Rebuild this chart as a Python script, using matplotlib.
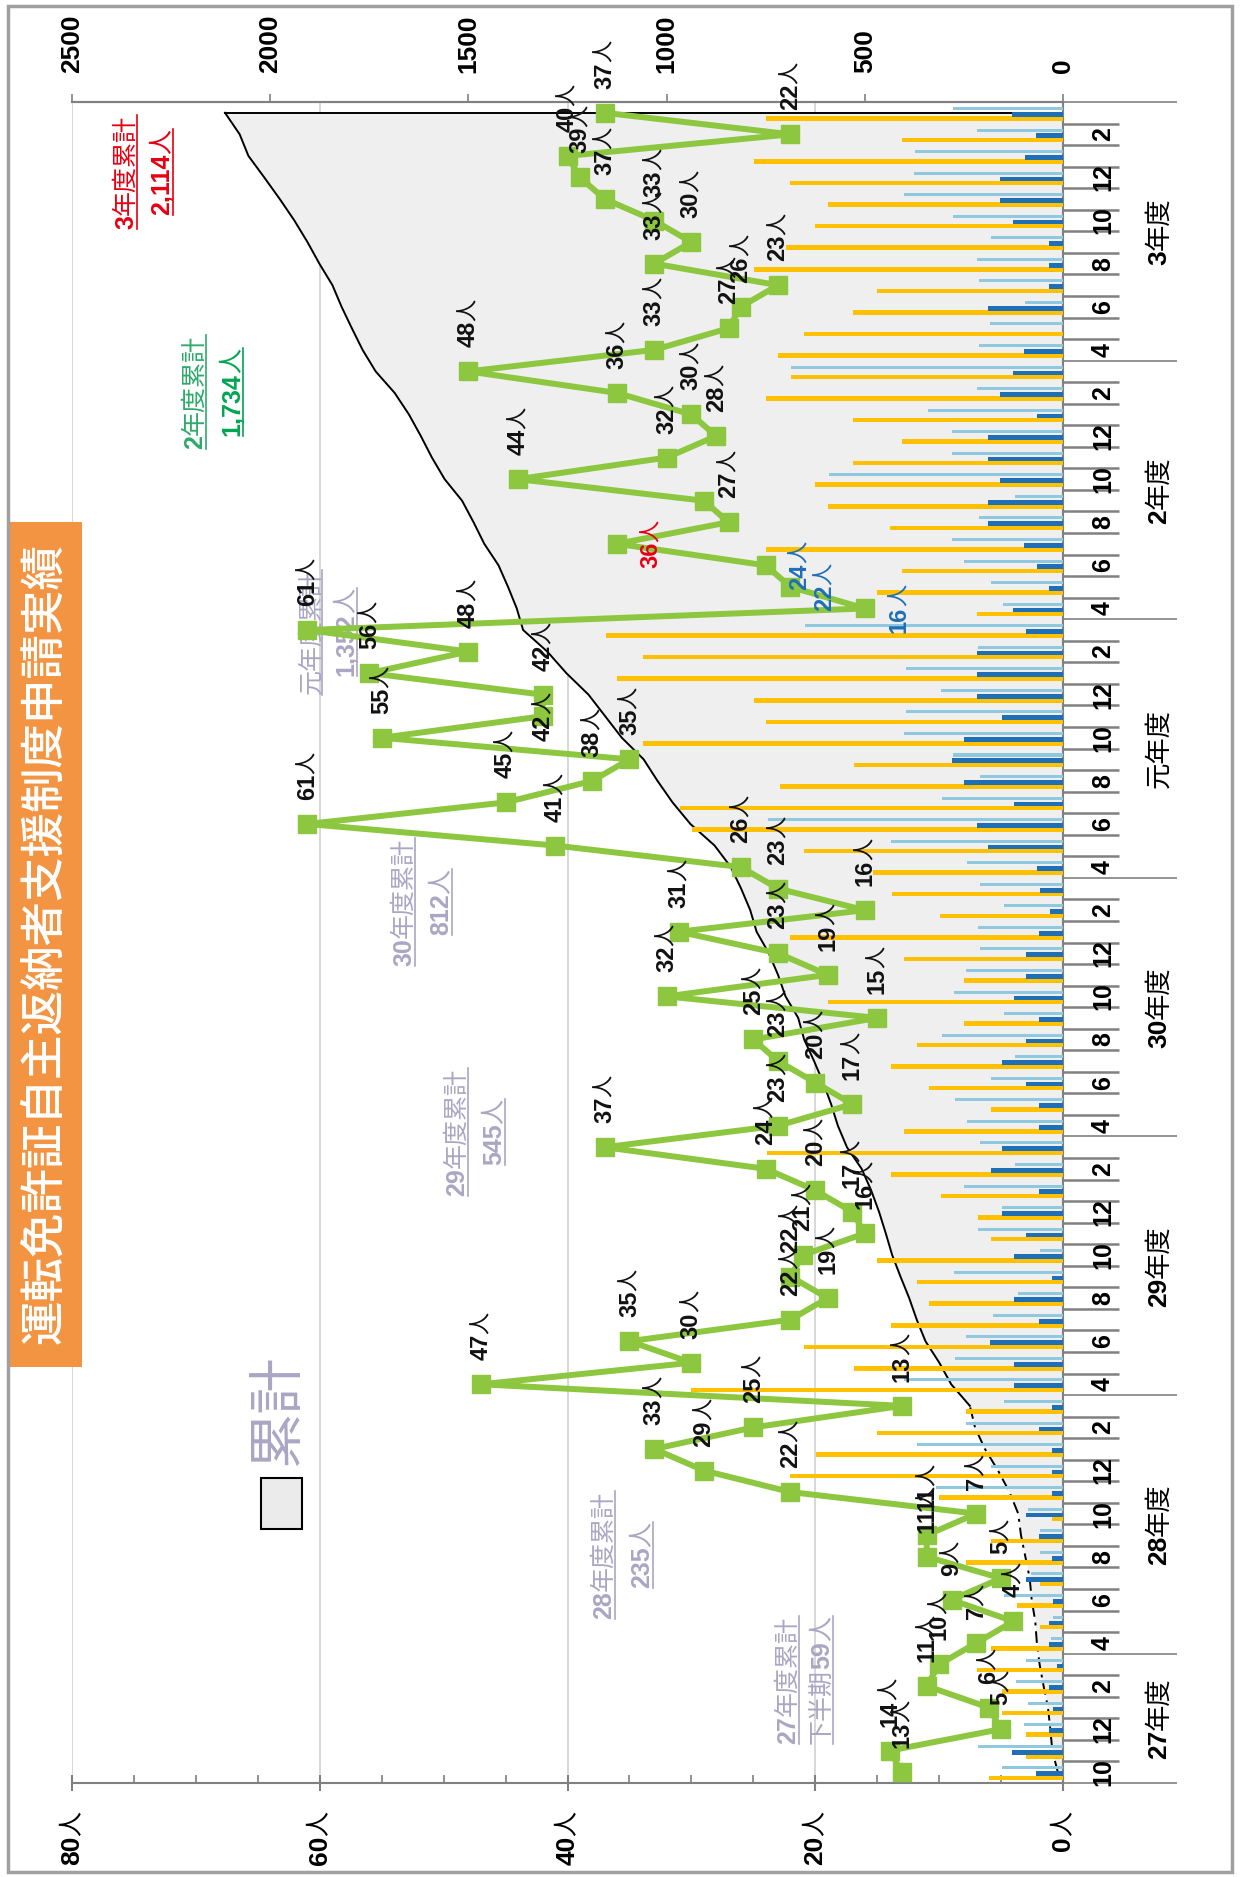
import re
import matplotlib
matplotlib.use("Agg")
import matplotlib.pyplot as plt
import numpy as np
from matplotlib.patches import Rectangle
from matplotlib.lines import Line2D
from matplotlib.transforms import IdentityTransform

W, H = 1241, 1877
CJK = ["Noto Sans CJK JP", "DejaVu Sans"]
SANS = ["Liberation Sans", "DejaVu Sans"]
NARROW = ["Liberation Sans Narrow", "Liberation Sans", "DejaVu Sans"]

# monthly applicants (人), fiscal years, Apr..Mar (27年度: Oct..Mar only)
apps_h27 = [13, 14, 5, 6, 11, 10]
apps_h28 = [7, 4, 9, 5, 11, 11, 7, 22, 29, 33, 25, 13]
apps_h29 = [47, 30, 35, 22, 19, 22, 21, 16, 17, 20, 24, 37]
apps_h30 = [23, 17, 20, 23, 25, 15, 32, 19, 23, 31, 16, 23]
apps_r1 = [26, 41, 61, 45, 38, 35, 55, 42, 42, 56, 48, 61]
apps_r2 = [16, 22, 24, 36, 27, 29, 44, 32, 28, 30, 36, 48]
apps_r3 = [33, 27, 26, 23, 33, 30, 33, 37, 39, 40, 22, 37]

# three monthly bar series, read against the 0-2500 scale
yellow_h27 = [186, 93, 93, 155, 155, 217]
yellow_h28 = [181, 57, 115, 57, 244, 182, 29, 313, 688, 624, 468, 244]
yellow_h29 = [938, 528, 653, 433, 337, 369, 468, 182, 214, 308, 433, 747]
yellow_h30 = [400, 182, 337, 433, 369, 249, 592, 249, 400, 688, 310, 432]
yellow_r1 = [480, 653, 935, 967, 715, 528, 1060, 749, 780, 1124, 1060, 1154]
yellow_r2 = [216, 469, 405, 749, 436, 592, 625, 530, 405, 530, 749, 687]
yellow_r3 = [719, 654, 530, 469, 780, 700, 625, 592, 688, 780, 405, 749]

dark_h27 = [67, 129, 36, 26, 36, 15]
dark_h28 = [36, 36, 26, 93, 29, 61, 93, 29, 29, 29, 61, 29]
dark_h29 = [124, 124, 185, 61, 124, 29, 124, 93, 153, 61, 182, 153]
dark_h30 = [61, 61, 93, 153, 93, 61, 124, 93, 93, 61, 34, 57]
dark_r1 = [65, 188, 217, 124, 249, 281, 249, 153, 217, 217, 217, 93]
dark_r2 = [127, 36, 65, 98, 188, 188, 160, 188, 188, 65, 160, 127]
dark_r3 = [98, 0, 188, 36, 36, 36, 127, 160, 160, 96, 67, 129]

light_h27 = [155, 214, 98, 88, 119, 93]
light_h28 = [30, 26, 150, 80, 57, 57, 89, 321, 182, 369, 244, 150]
light_h29 = [400, 273, 244, 177, 113, 276, 57, 214, 153, 249, 121, 209]
light_h30 = [241, 273, 182, 121, 305, 150, 276, 244, 209, 214, 150, 209]
light_r1 = [241, 433, 744, 305, 209, 278, 400, 397, 308, 397, 214, 651]
light_r2 = [151, 182, 250, 281, 213, 120, 590, 281, 281, 340, 216, 687]
light_r3 = [213, 185, 95, 213, 216, 182, 278, 402, 376, 374, 216, 278]

fy_names = ["27", "28", "29", "30", "元", "2", "3"]
fy_totals = [59, 235, 545, 812, 1352, 1734, 2114]
first_month = 10

applicants = np.array(apps_h27 + apps_h28 + apps_h29 + apps_h30 + apps_r1 + apps_r2 + apps_r3)
yellow = np.array(yellow_h27 + yellow_h28 + yellow_h29 + yellow_h30 + yellow_r1 + yellow_r2 + yellow_r3)
dark = np.array(dark_h27 + dark_h28 + dark_h29 + dark_h30 + dark_r1 + dark_r2 + dark_r3)
light = np.array(light_h27 + light_h28 + light_h29 + light_h30 + light_r1 + light_r2 + light_r3)
cumulative = np.cumsum(applicants)

n = len(applicants)
ycent = np.arange(n) + 0.5
fy_len = [len(apps_h27)] + [12] * 6
fy_edges = np.concatenate([[0], np.cumsum(fy_len)])

SCALE = 2500 / 80  # top scale units per person

fig = plt.figure(figsize=(W / 100, H / 100), dpi=100)
fig.patch.set_facecolor("white")
ax = fig.add_axes([72 / W, 1 - 1783 / H, (1063 - 72) / W, (1783 - 102) / H])
ax.set_xlim(80, 0)
ax.set_ylim(0, n)
ax.set_facecolor("white")

GRAY = "#808080"
ax.spines["left"].set_visible(False)
for side in ["right", "top", "bottom"]:
    ax.spines[side].set_color(GRAY)
    ax.spines[side].set_linewidth(1.5)

ax.grid(axis="x", color="#d4d4d4", lw=1.3, zorder=0)
ax.set_axisbelow(True)

# cumulative area
ax.fill_betweenx(ycent, 0, cumulative / SCALE, color="#efefef", lw=0, zorder=1)
split = fy_edges[2]
ax.plot(cumulative[:split] / SCALE, ycent[:split], color="black", lw=1.4, ls=(0, (6, 3, 1.5, 3)), zorder=2)
ax.plot(cumulative[split - 1:] / SCALE, ycent[split - 1:], color="black", lw=1.4, zorder=2)
ax.plot([cumulative[-1] / SCALE, 0], [ycent[-1], ycent[-1]], color="black", lw=1.4, zorder=2)

# monthly bars
ax.barh(np.arange(n) + 0.24, yellow / SCALE, height=0.21, color="#ffc000", zorder=3)
ax.barh(np.arange(n) + 0.43, dark / SCALE, height=0.22, color="#1f6fb6", zorder=3)
ax.barh(np.arange(n) + 0.70, light / SCALE, height=0.14, color="#8fc8df", zorder=3)

# applicants line
ax.plot(applicants, ycent, "-s", color="#8dc63f", lw=4.3, ms=13.5, zorder=5)

# time axis (right side)
ax.yaxis.tick_right()
ax.set_yticks(fy_edges)
ax.set_yticks(np.arange(n + 1), minor=True)
ax.tick_params(axis="y", which="major", length=82, width=1.2, color=GRAY, labelright=False)
ax.tick_params(axis="y", which="minor", length=40, width=1.8, color=GRAY)

# bottom axis (people)
ax.set_xticks(np.arange(0, 81, 20))
ax.set_xticks(np.arange(0, 81, 5), minor=True)
ax.tick_params(axis="x", which="major", direction="inout", length=12, width=1.5, color=GRAY, labelbottom=False)
ax.tick_params(axis="x", which="minor", direction="in", length=6, width=1.2, color=GRAY)

# top axis (cumulative)
sec = ax.secondary_xaxis("top", functions=(lambda v: v * SCALE, lambda v: v / SCALE))
sec.spines["top"].set_color(GRAY)
sec.spines["top"].set_linewidth(1.5)
sec.set_xticks(np.arange(0, 2501, 500), [str(v) for v in range(0, 2501, 500)],
               fontweight="bold", fontfamily=SANS, fontsize=19, rotation=90)
sec.tick_params(axis="x", direction="out", length=6, width=1.2, color=GRAY, pad=15)

renderer = fig.canvas.get_renderer()


def draw_runs(x, y, s, size, color="black", align="bottom", digit_font=SANS,
              kanji_size=None, zorder=6, underline=False):
    """Rotated text reading upwards; digit runs bold, other runs CJK regular."""
    arts = []
    for r in re.findall(r"[\d,]+|[^\d,]+", s):
        if r[0].isdigit():
            kw = dict(family=digit_font, weight="bold", size=size)
        else:
            kw = dict(family=CJK, weight="normal", size=kanji_size or size)
        arts.append(ax.text(0, 0, r, rotation=90, rotation_mode="anchor", ha="left", va="center",
                            color=color, transform=IdentityTransform(), clip_on=False,
                            zorder=zorder, **kw))
    lens = [t.get_window_extent(renderer).height for t in arts]
    total = sum(lens)
    start = {"bottom": y, "top": y - total, "center": y - total / 2}[align]
    y0 = start
    for t, ln in zip(arts, lens):
        t.set_position((x, start))
        start += ln
    if underline:
        ux = x + size * 0.62
        ax.add_artist(Line2D([ux, ux], [y0, start], color=color, lw=1.2,
                             transform=IdentityTransform(), clip_on=False, zorder=zorder))


def disp(xv, yv):
    return ax.transData.transform((xv, yv))


# bottom tick labels
for v in range(0, 81, 20):
    x, _ = disp(v, 0)
    draw_runs(x, H - 1811, f"{v}人", 19, align="top", kanji_size=18)

# month labels
for i in range(0, n, 2):
    _, y = disp(0, i + 0.5)
    month = (first_month + i - 1) % 12 + 1
    draw_runs(1103, y, str(month), 18, align="center")

# fiscal year labels
for k, name in enumerate(fy_names):
    _, y = disp(0, (fy_edges[k] + fy_edges[k + 1]) / 2)
    draw_runs(1159, y, f"{name}年度", 19, align="center")

# value labels
label_color = {54: "#1f6fb6", 55: "#1f6fb6", 56: "#1f6fb6", 57: "#e60012"}
beside = {54, 55, 56, 57}
on_marker = {49}
hidden = {59}
for i, v in enumerate(applicants):
    if i in hidden:
        continue
    x, y = disp(v, i + 0.5)
    c = label_color.get(i, "#111111")
    if i in beside:
        draw_runs(x + 34, y, f"{v}人", 17, c, align="center", digit_font=NARROW, kanji_size=16)
    elif i in on_marker:
        draw_runs(x, y, f"{v}人", 17, c, align="center", digit_font=NARROW, kanji_size=16)
    else:
        draw_runs(x, y + 24, f"{v}人", 17, c, align="bottom", digit_font=NARROW, kanji_size=16)

# fiscal-year cumulative notes
LAV = "#aaa6c4"
note_pos = [(788, 822, 1680), (604, 642, 1555), (457, 494, 1132), (404, 441, 902),
            (311, 346, 632), (195, 232, 392), (126, 162, 172)]
note_col = [(LAV, LAV)] * 5 + [("#2eaa6a", "#00a651"), ("#e60012", "#e60012")]
for k, name in enumerate(fy_names):
    x1, x2, yc = note_pos[k]
    line2 = f"{fy_totals[k]:,}人"
    if k == 0:
        line2 = "下半期" + line2
    draw_runs(x1, H - yc, f"{name}年度累計", 18, note_col[k][0], align="center",
              zorder=4, underline=True)
    draw_runs(x2, H - yc, line2, 18, note_col[k][1], align="center", zorder=4, underline=True)

# legend
fig.text(278 / W, 1 - 1411 / H, "累計", rotation=90, ha="center", va="center",
         family=CJK, size=40, color=LAV)
fig.add_artist(Rectangle((261 / W, 1 - 1529 / H), 41 / W, 51 / H, transform=fig.transFigure,
                         facecolor="#ebebeb", edgecolor="black", lw=1.5))

# title box
fig.add_artist(Rectangle((8 / W, 1 - 1367 / H), 74 / W, 845 / H, transform=fig.transFigure,
                         facecolor="#f39443", edgecolor="none"))
fig.text(45 / W, 1 - 944 / H, "運転免許証自主返納者支援制度申請実績", rotation=90,
         ha="center", va="center", family=CJK, size=32, weight="medium", color="white")

# outer frame
fig.add_artist(Rectangle((8 / W, 1 - 1872 / H), 1224 / W, 1866 / H, transform=fig.transFigure,
                         facecolor="none", edgecolor="#a0a0a0", lw=2.5))

fig.savefig("out.png", dpi=100, facecolor="white")
